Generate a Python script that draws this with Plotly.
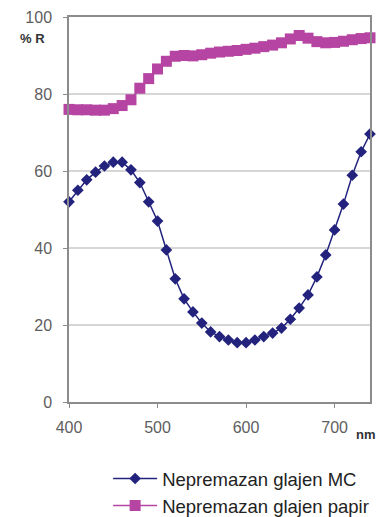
import plotly.graph_objects as go

wavelength = [400, 410, 420, 430, 440, 450, 460, 470, 480, 490, 500, 510, 520, 530, 540, 550,
              560, 570, 580, 590, 600, 610, 620, 630, 640, 650, 660, 670, 680, 690, 700, 710,
              720, 730, 740]
mc_values = [52.0, 55.0, 57.7, 59.7, 61.3, 62.3, 62.3, 60.3, 57.0, 52.0, 47.0, 39.5, 32.0, 26.8,
             23.4, 20.5, 18.2, 17.0, 16.1, 15.4, 15.4, 16.1, 17.0, 17.9, 19.2, 21.5, 24.4, 27.8,
             32.5, 38.2, 44.7, 51.4, 58.9, 65.0, 69.6]
papir_values = [76.0, 75.9, 75.9, 75.8, 75.8, 76.2, 77.0, 78.5, 81.5, 84.0, 86.5, 88.5, 89.8, 90.0,
                89.9, 90.2, 90.6, 90.9, 91.1, 91.3, 91.6, 91.9, 92.3, 92.7, 93.3, 94.3, 95.2, 94.5,
                93.6, 93.3, 93.4, 93.7, 94.1, 94.4, 94.6]
series_names = ["Nepremazan glajen MC", "Nepremazan glajen papir"]
x_ticks = [400, 500, 600, 700]
y_ticks = [0, 20, 40, 60, 80, 100]

FONT = "Liberation Sans, Arial, sans-serif"

fig = go.Figure()
fig.add_trace(go.Scatter(
    x=wavelength, y=mc_values, name=series_names[0], mode="lines+markers",
    line=dict(color="#23237E", width=1.5),
    marker=dict(symbol="diamond", size=9, color="#23237E"),
    cliponaxis=False,
))
fig.add_trace(go.Scatter(
    x=wavelength, y=papir_values, name=series_names[1], mode="lines+markers",
    line=dict(color="#B544A2", width=1.5),
    marker=dict(symbol="square", size=11, color="#B544A2"),
    cliponaxis=False,
))

axis_common = dict(
    showline=True, linecolor="#8C8C8C", linewidth=1.5, mirror=True,
    ticks="outside", ticklen=4, tickcolor="#8C8C8C",
    tickfont=dict(family=FONT, size=16, color="#5E5E5E"),
    zeroline=False, automargin=False,
)
fig.update_xaxes(range=[400, 740], tickvals=x_ticks, showgrid=False,
                 ticklabelstandoff=6, **axis_common)
fig.update_yaxes(range=[0, 100], tickvals=y_ticks, showgrid=True, gridcolor="#D6D6D6",
                 gridwidth=1.5, ticklabelstandoff=8, **axis_common)

fig.add_annotation(text="<b>% R</b>", x=0, xref="paper", xanchor="right", xshift=-22,
                   y=1, yref="paper", yanchor="middle", yshift=-21, showarrow=False,
                   font=dict(family=FONT, size=13, color="#333333"))
fig.add_annotation(text="<b>nm</b>", x=1, xref="paper", xanchor="center", xshift=-4,
                   y=0, yref="paper", yanchor="top", yshift=-23, showarrow=False,
                   font=dict(family=FONT, size=13, color="#333333"))

# The page body adds an 8px margin; size the figure so the plot sits where the reference's does.
fig.update_layout(
    width=376, height=509,
    margin=dict(l=61, r=14, t=9, b=115, autoexpand=False),
    paper_bgcolor="white", plot_bgcolor="white",
    showlegend=True,
    legend=dict(x=0.13, xanchor="left", xref="paper", y=0.112, yanchor="top", yref="container",
                font=dict(family=FONT, size=18.5, color="#222222"),
                tracegroupgap=4, itemwidth=44),
)
fig.write_html("out.html")
